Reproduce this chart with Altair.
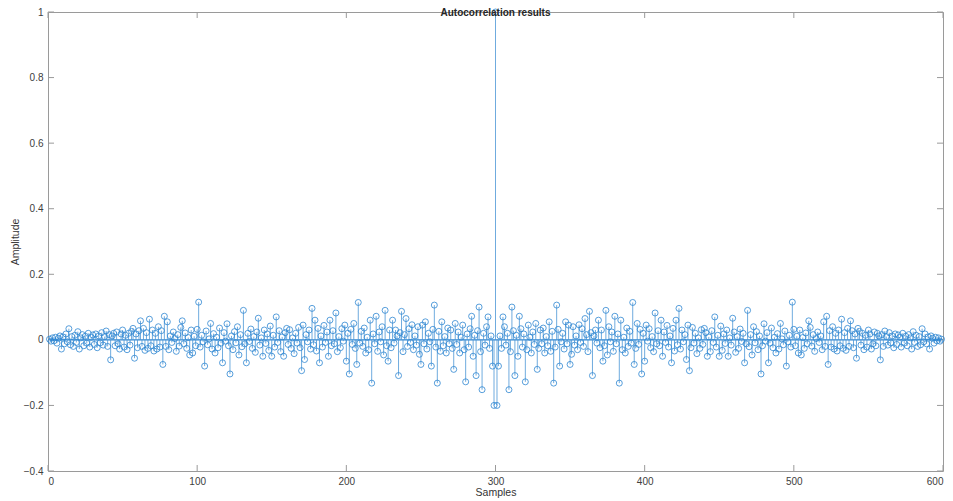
import altair as alt
import pandas as pd

# Autocorrelation values for samples 1..299 (left half); sample 300 is the peak.
left_vals = [
    0.002, -0.004, 0.006, -0.003, 0.008, -0.010, 0.005, 0.012, -0.028, 0.009,
    -0.012, 0.018, -0.006, 0.034, -0.015, 0.010, -0.020, 0.014, -0.008, 0.025,
    -0.028, 0.006, 0.016, -0.018, 0.011, -0.010, 0.020, -0.022, 0.008, 0.015,
    -0.014, 0.018, -0.024, 0.012, -0.009, 0.022, -0.016, 0.010, 0.027, -0.020,
    0.016, -0.061, 0.012, 0.020, -0.018, 0.024, -0.012, -0.028, 0.018, 0.030,
    -0.022, 0.014, -0.030, 0.020, -0.016, 0.026, 0.035, -0.056, 0.018, -0.024,
    0.028, 0.058, -0.020, 0.035, -0.032, 0.022, -0.026, 0.063, -0.018, 0.030,
    -0.034, 0.020, -0.028, 0.040, -0.022, 0.028, -0.075, 0.072, -0.020, 0.055,
    -0.030, 0.012, -0.008, 0.024, 0.004, -0.035, 0.016, -0.019, 0.038, 0.058,
    -0.012, 0.021, -0.026, 0.007, -0.046, 0.030, -0.040, 0.011, -0.018, 0.032,
    0.115, -0.022, 0.014, -0.006, -0.080, 0.027, -0.015, 0.003, 0.050, -0.028,
    0.019, -0.040, 0.008, -0.024, 0.036, -0.010, -0.070, 0.022, -0.004, 0.049,
    -0.018, -0.104, 0.012, -0.030, 0.025, -0.009, 0.040, -0.046, 0.016, -0.021,
    0.090, -0.012, -0.070, 0.020, -0.005, 0.033, -0.026, 0.010, -0.038, 0.024,
    0.066, -0.016, 0.006, -0.050, 0.030, -0.011, 0.018, -0.032, 0.042, -0.050,
    0.014, -0.022, 0.070, -0.008, 0.028, -0.036, 0.009, -0.050, 0.022, 0.035,
    -0.014, 0.031, -0.026, 0.006, -0.042, 0.020, -0.010, 0.038, -0.024, -0.094,
    0.045, -0.060, 0.016, -0.006, 0.030, -0.028, 0.096, -0.015, 0.060, -0.034,
    0.035, -0.070, 0.012, -0.022, 0.044, -0.008, 0.024, -0.050, 0.060, -0.018,
    0.028, -0.012, 0.082, -0.036, 0.010, -0.024, 0.034, -0.004, 0.045, -0.065,
    0.020, -0.104, 0.032, -0.014, 0.050, -0.026, -0.075, 0.114, -0.010, 0.026,
    -0.020, 0.036, -0.040, 0.008, -0.030, 0.060, -0.132, 0.018, -0.012, 0.072,
    -0.035, 0.024, -0.006, 0.040, -0.046, 0.090, -0.018, -0.065, 0.030, -0.024,
    0.060, -0.010, 0.030, 0.012, -0.109, 0.022, 0.087, -0.036, 0.016, 0.065,
    -0.020, 0.034, -0.008, 0.046, -0.030, 0.012, -0.016, 0.040, -0.044, -0.075,
    0.045, -0.012, 0.055, -0.028, 0.020, -0.006, -0.080, 0.032, 0.106, -0.022,
    -0.132, 0.026, -0.035, 0.055, -0.018, 0.010, -0.040, 0.036, -0.012, 0.030,
    -0.026, -0.090, 0.050, -0.014, 0.024, -0.040, 0.008, 0.045, -0.030, -0.128,
    0.018, -0.022, 0.034, 0.072, -0.050, 0.014, -0.109, 0.028, 0.100, -0.036,
    -0.152, 0.020, -0.016, 0.040, 0.070, -0.026, 0.012, -0.080, -0.200,
]
peak_val = [1.0]
right_vals = left_vals[::-1]   # autocorrelation is symmetric about the centre
amplitudes = left_vals + peak_val + right_vals
samples = list(range(1, len(amplitudes) + 1))

x_ticks = [0, 100, 200, 300, 400, 500, 600]
y_ticks = [-0.4, -0.2, 0, 0.2, 0.4, 0.6, 0.8, 1]
baseline_span = [1, 599]

title_text = "Autocorrelation results"
x_title = "Samples"
y_title = "Amplitude"

W, H = 895, 459
STEM = "#4a95d6"
MARK = "#2f86d2"
FRAME = "#9a9a9a"
FONT = "Liberation Sans"

df = pd.DataFrame({"sample": samples, "amp": amplitudes})
base_df = pd.DataFrame({"x": [baseline_span[0]], "x2": [baseline_span[1]], "y": [0]})
xt_df = pd.DataFrame({"t": x_ticks})
yt_df = pd.DataFrame({"t": y_ticks})

xs = alt.Scale(domain=[0, 600], nice=False, zero=False)
ys = alt.Scale(domain=[-0.4, 1], nice=False, zero=False)

x_axis = alt.Axis(values=x_ticks, title=x_title, format="d", ticks=False,
                  labelPadding=5, titlePadding=1)
y_axis = alt.Axis(values=y_ticks, title=y_title, format="~g", ticks=False,
                  labelPadding=5, titlePadding=3)

stems = alt.Chart(df).mark_rule(color=STEM, strokeWidth=0.8).encode(
    x=alt.X("sample:Q", scale=xs, axis=x_axis),
    y=alt.Y("amp:Q", scale=ys, axis=y_axis),
    y2=alt.datum(0),
)

markers = alt.Chart(df).mark_point(shape="circle", filled=False, size=36,
                                   color=MARK, strokeWidth=0.8, opacity=1).encode(
    x=alt.X("sample:Q", scale=xs),
    y=alt.Y("amp:Q", scale=ys),
)

baseline = alt.Chart(base_df).mark_rule(color=MARK, strokeWidth=1.2).encode(
    x=alt.X("x:Q", scale=xs), x2="x2:Q", y=alt.Y("y:Q", scale=ys)
)

xt_bottom = alt.Chart(xt_df).mark_rule(color=FRAME, strokeWidth=1).encode(
    x=alt.X("t:Q", scale=xs), y=alt.value(H), y2=alt.value(H - 6))
xt_top = alt.Chart(xt_df).mark_rule(color=FRAME, strokeWidth=1).encode(
    x=alt.X("t:Q", scale=xs), y=alt.value(0), y2=alt.value(6))
yt_left = alt.Chart(yt_df).mark_rule(color=FRAME, strokeWidth=1).encode(
    y=alt.Y("t:Q", scale=ys), x=alt.value(0), x2=alt.value(6))
yt_right = alt.Chart(yt_df).mark_rule(color=FRAME, strokeWidth=1).encode(
    y=alt.Y("t:Q", scale=ys), x=alt.value(W), x2=alt.value(W - 6))

title = alt.Chart(pd.DataFrame({"t": [title_text]})).mark_text(
    font=FONT, fontSize=10, fontWeight="bold", color="#262626", baseline="top",
    align="center").encode(text="t:N", x=alt.value(W / 2), y=alt.value(-4))

chart = alt.layer(
    xt_bottom, xt_top, yt_left, yt_right, baseline, stems, markers, title
).properties(
    width=W, height=H,
    autosize=alt.AutoSizeParams(type="none"),
    padding={"left": 40, "top": 4, "right": 2, "bottom": 28},
).configure_view(
    stroke=FRAME, strokeWidth=1
).configure_axis(
    grid=False, domain=False,
    labelFont=FONT, labelFontSize=10, labelColor="#404040",
    titleFont=FONT, titleFontSize=10.5, titleFontWeight="normal", titleColor="#333333",
)

chart.save("out.html", embed_options={"renderer": "svg", "actions": False})
